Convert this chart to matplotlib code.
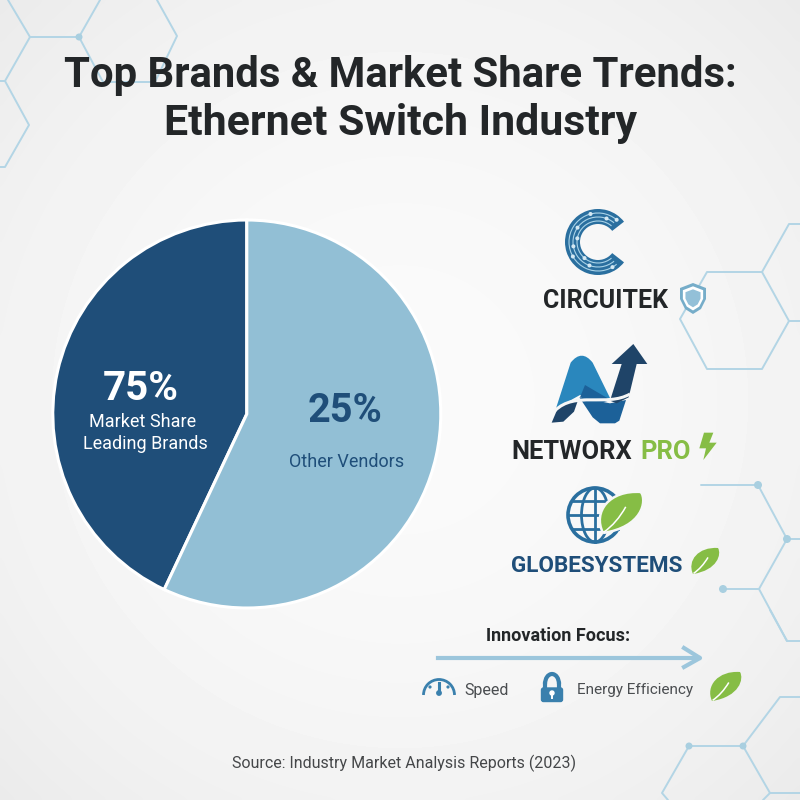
import numpy as np
import matplotlib
matplotlib.use("Agg")
import matplotlib.pyplot as plt
from matplotlib.patches import Circle, Wedge, Polygon, PathPatch, Arc, FancyBboxPatch
from matplotlib.path import Path

# ---- data ----
slice_names = ["Leading Brands", "Other Vendors"]
slice_sizes = [43, 57]           # angles as drawn in the picture
slice_colors = ["#1f4e79", "#92bfd5"]
slice_percent = ["75%", "25%"]

title_lines = ["Top Brands & Market Share Trends:", "Ethernet Switch Industry"]
source_text = "Source: Industry Market Analysis Reports (2023)"
focus_title = "Innovation Focus:"
focus_items = ["Speed", "Energy Efficiency"]

DARK = "#232628"
BLUE = "#1f4e79"
MID = "#2a6f9f"
GREEN = "#86bd45"
HEX = "#b3d5e5"

plt.rcParams["font.family"] = ["Roboto", "DejaVu Sans"]
fig = plt.figure(figsize=(8, 8), dpi=100)

# background
bg = fig.add_axes([0, 0, 1, 1], zorder=0)
yy, xx = np.mgrid[0:1:200j, 0:1:200j]
rr = np.hypot(xx - 0.5, yy - 0.5) / 0.707
bg.imshow(0.98 - 0.06 * rr ** 2, cmap="gray", vmin=0, vmax=1, extent=[0, 800, 800, 0], aspect="auto",
          interpolation="bicubic")
bg.axis("off")

# pie
pa = fig.add_axes([52.8 / 800, 192 / 800, 388 / 800, 388 / 800], zorder=1)
pa.pie(slice_sizes, colors=slice_colors, startangle=90, counterclock=True, radius=1,
       wedgeprops=dict(edgecolor="white", linewidth=2.2))
pa.set_xlim(-1, 1)
pa.set_ylim(-1, 1)

# overlay in pixel coordinates
ax = fig.add_axes([0, 0, 1, 1], zorder=2)
ax.set_xlim(0, 800)
ax.set_ylim(800, 0)
ax.axis("off")
ax.patch.set_alpha(0)

# hexagon network
hex_lines = [
    [(8, 0), (30, 37), (79, 37), (100, 0)],
    [(30, 37), (5, 81), (0, 81)],
    [(5, 81), (29, 125), (5, 167), (0, 167)],
    [(79, 37), (103, 82), (155, 82), (177, 36), (157, 0)],
    [(800, 224), (789, 224), (762, 272), (707, 272), (680, 319), (707, 369), (762, 369), (789, 321), (800, 321)],
    [(762, 272), (789, 321)],
    [(701, 485), (758, 485), (787, 539), (800, 539)],
    [(787, 539), (759, 589), (723, 589)],
    [(759, 589), (787, 641), (800, 641)],
    [(770, 610), (787, 641)],
    [(800, 697), (780, 697), (743, 746), (689, 746), (662, 793), (668, 800)],
    [(743, 746), (770, 793), (800, 793)],
    [(770, 793), (763, 800)],
]
for ln in hex_lines:
    xs, ys = zip(*ln)
    ax.plot(xs, ys, color=HEX, lw=1.4, solid_capstyle="round", zorder=1)
for x, y, r in [(79, 37, 3.5), (758, 485, 4), (787, 539, 4), (723, 589, 4), (743, 746, 3.5), (689, 746, 3.5)]:
    ax.add_patch(Circle((x, y), r, color="#a9cfe0", lw=0, zorder=1))


def T(x, y, s, size, color=DARK, weight="normal", ha="center"):
    return ax.text(x, y, s, fontsize=size, color=color, fontweight=weight, ha=ha, va="center", zorder=5)


def leaf(base, tip, width, color=GREEN, edge="none", elw=0):
    b = np.array(base, float)
    t = np.array(tip, float)
    d = t - b
    n = np.array([d[1], -d[0]]) * width
    verts = [b, b + .15 * d + 1.0 * n, b + .65 * d + 1.1 * n, t,
             b + .95 * d - .5 * n, b + .55 * d - 1.1 * n, b]
    codes = [Path.MOVETO, Path.CURVE4, Path.CURVE4, Path.CURVE4, Path.CURVE4, Path.CURVE4, Path.CURVE4]
    ax.add_patch(PathPatch(Path(verts, codes), fc=color, ec=edge, lw=elw, zorder=4))
    v = [b + .02 * d, b + .3 * d - .15 * n, b + .62 * d + .05 * n]
    ax.add_patch(PathPatch(Path(v, [Path.MOVETO, Path.CURVE3, Path.CURVE3]), fc="none", ec="white",
                           lw=1.1, zorder=4))


# title
T(400, 75, title_lines[0], 30.2, weight="bold")
T(400, 124, title_lines[1], 30.9, weight="bold")

# pie labels
T(141, 389, slice_percent[0], 29, "white", "bold")
T(143, 422, "Market Share", 13, "white")
T(145, 444, slice_names[0], 13, "white")
T(345, 411, slice_percent[1], 28.5, BLUE, "bold")
T(347, 462, slice_names[1], 13, BLUE)

# CIRCUITEK logo
ax.add_patch(Wedge((598, 242), 33, 38, 322, width=15, fc=MID, ec="none", zorder=3))
# (the y axis is inverted, so the wedge angles run clockwise on screen)
trace_r = [21, 25, 29]
for r in trace_r:
    ax.add_patch(Arc((598, 242), 2 * r, 2 * r, theta1=50, theta2=310, color="#a9d3e8", lw=0.8, zorder=4))
for a, r in [(60, 29), (110, 25), (150, 29), (190, 21), (215, 25), (255, 29), (290, 25), (310, 29), (130, 21), (170, 25)]:
    ax.add_patch(Circle((598 + r * np.cos(np.radians(a)), 242 + r * np.sin(np.radians(a))), 1.3, color="#d5e9f3", zorder=4))
T(606, 301, "CIRCUITEK", 18, DARK, "bold")

# shield
sv = np.array([(693, 283), (706, 288), (706, 299), (701, 309), (693, 314), (685, 309), (680, 299), (680, 288)], float)
ctr = np.array([693, 298.0])
ax.add_patch(Polygon(sv, closed=True, fc="#76adc9", ec="none", zorder=4))
ax.add_patch(Polygon(ctr + (sv - ctr) * .78, closed=True, fc="white", ec="none", zorder=4))
ax.add_patch(Polygon(ctr + (sv - ctr) * .58, closed=True, fc="#93c0d8", ec="none", zorder=4))


# NETWORX logo
def Z(pts):
    return [(x / 3 + 500, y / 3 + 190) for x, y in pts]


top_v = Z([(168, 655), (212, 518), (245, 476), (278, 518), (332, 628), (285, 622), (240, 615), (168, 655)])
top_c = [Path.MOVETO, Path.LINETO, Path.CURVE3, Path.CURVE3, Path.LINETO, Path.LINETO, Path.LINETO, Path.CLOSEPOLY]
ax.add_patch(PathPatch(Path(top_v, top_c), fc="#2a87bd", ec="none", zorder=3))
ax.add_patch(Polygon(Z([(240, 622), (255, 585), (332, 630), (300, 640)]), fc="#1c6199", ec="none", zorder=3))
ax.add_patch(Polygon(Z([(238, 622), (330, 640), (378, 630), (358, 692), (345, 700), (300, 700), (278, 682)]),
                     fc="#1c6199", ec="none", zorder=3))
ax.add_patch(Polygon(Z([(330, 632), (365, 522), (335, 522), (400, 462), (442, 522), (410, 522), (386, 622), (350, 640)]),
                     fc="#1f4468", ec="none", zorder=3))
ax.add_patch(Polygon(Z([(155, 698), (172, 658), (205, 635), (235, 628), (222, 665), (190, 695)]),
                     fc="#1f4468", ec="none", zorder=3))
sw = Z([(165, 662), (225, 602), (320, 652), (390, 612)])
ax.add_patch(PathPatch(Path(sw, [Path.MOVETO, Path.CURVE4, Path.CURVE4, Path.CURVE4]), fc="none", ec="#f6f7f7", lw=2.2, zorder=3.5))
T(511, 452, "NETWORX", 18.4, DARK, "bold", ha="left")
T(640, 452, "PRO", 18.4, GREEN, "bold", ha="left")
ax.add_patch(Polygon(Z([(612, 728), (640, 728), (628, 758), (650, 758), (610, 810), (618, 775), (598, 775)]),
                     fc=GREEN, ec="none", zorder=4))

# GLOBESYSTEMS logo
gx, gy, gr = 595, 515, 27
ax.add_patch(Circle((gx, gy), gr, fc="none", ec=MID, lw=2.6, zorder=3))
ax.add_patch(Arc((gx, gy), gr, 2 * gr, color=MID, lw=2, zorder=3))
ax.plot([gx, gx], [gy - gr, gy + gr], color=MID, lw=2, zorder=3)
ax.plot([gx - gr, gx + gr], [gy, gy], color=MID, lw=2, zorder=3)
for dy in (-14, 14):
    w = np.sqrt(gr ** 2 - dy ** 2)
    ax.plot([gx - w, gx + w], [gy + dy, gy + dy], color=MID, lw=2, zorder=3)
leaf((603, 533), (641, 492), 0.4, edge="#f6f7f7", elw=1.8)
T(511, 566, "GLOBESYSTEMS", 16.2, BLUE, "bold", ha="left")
leaf((693, 574), (718, 548), 0.38)

# innovation focus
T(558, 636, focus_title, 13, DARK, "bold")
ax.plot([438, 699], [658, 658], color="#9cc6dc", lw=3, zorder=3)
ax.plot([684, 700, 684], [648, 658, 667], color="#9cc6dc", lw=3, zorder=3)
ax.add_patch(Arc((439, 695), 31, 31, theta1=180, theta2=360, color="#3a80ad", lw=2, zorder=3))
ax.plot([439, 439], [683, 693], color="#3a80ad", lw=2.2, zorder=3)
ax.add_patch(Circle((439, 693), 2.2, color="#3a80ad", zorder=3))
for dx, dy in [(-9, -8), (9, -8)]:
    ax.add_patch(Circle((439 + dx, 695 + dy), 0.9, color="#3a80ad", zorder=3))
T(487, 690, focus_items[0], 11.5, "#4a4d50")
ax.add_patch(Arc((552, 684), 14, 20, theta1=180, theta2=360, color="#3a80ad", lw=3, zorder=3))
ax.plot([545, 545], [684, 690], color="#3a80ad", lw=3, zorder=3)
ax.plot([559, 559], [684, 690], color="#3a80ad", lw=3, zorder=3)
ax.add_patch(FancyBboxPatch((541.5, 688), 21, 13.5, boxstyle="round,pad=0,rounding_size=2", fc="#3a80ad", ec="#3a80ad", lw=1, zorder=3))
ax.add_patch(Circle((552, 693), 2, color="white", zorder=4))
ax.plot([552, 552], [693, 698], color="white", lw=1.4, zorder=4)
T(635, 690, focus_items[1], 11, "#4a4d50")
leaf((712, 701), (740, 672), 0.38)

# source
T(404, 763, source_text, 11.5, "#454749")

fig.savefig("out.png", dpi=100)
